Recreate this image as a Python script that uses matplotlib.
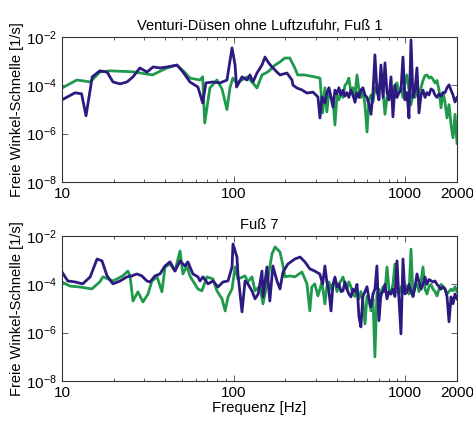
import numpy as np
import matplotlib
matplotlib.use("Agg")
import matplotlib.pyplot as plt
from matplotlib.ticker import FixedLocator, LogLocator, NullLocator, NullFormatter

plt.rcParams['font.family'] = ['Liberation Sans', 'DejaVu Sans']
plt.rcParams['mathtext.fontset'] = 'custom'
plt.rcParams['mathtext.rm'] = 'Liberation Sans'

# Daten: Frequenz [Hz], Werte als log10 der Winkel-Schnelle [1/s]
# --- oberes Bild (Fuß 1), tieffrequenter Teil
top_blue_f = [10, 11.9, 13.0, 13.8, 15.0, 16.6, 18.3, 19.8, 21.8, 23.9, 25.9, 28.4, 31.3,
              33.9, 37.2, 40.9, 46.7, 50.7, 55.6, 61.9, 66.0, 68.9, 75.8, 83.3, 91.4, 97.8,
              101.9, 104, 111.8, 119.5, 124.4, 129.6, 136.7, 146.2, 152.2, 158.4, 167.2,
              178.7, 186.1, 204.4, 218.6, 221.5, 233.7, 249.9, 267.3, 289.6, 309.7, 318.1,
              326.8]
top_blue_v = [-4.6, -4.31, -4.35, -5.26, -3.65, -3.40, -3.45, -3.86, -3.94, -3.86, -3.65,
              -3.28, -3.45, -3.24, -3.28, -3.24, -3.16, -3.45, -3.86, -4.07, -4.73, -3.90,
              -3.86, -3.90, -3.78, -2.45, -3.16, -4.07, -3.65, -3.78, -3.57, -3.86, -3.49,
              -3.16, -2.83, -3.03, -3.24, -3.45, -3.57, -3.49, -3.78, -3.99, -4.11, -4.19,
              -4.32, -4.28, -4.48, -5.35, -4.48]
top_green_f = [10, 12.2, 14.6, 16.6, 19.0, 25.9, 33.6, 40.9, 46.7, 51.7, 55.6, 63.6, 66.0,
               67.8, 72.7, 79.9, 85.5, 91.4, 95.1, 98.9, 104.0, 111.8, 119.5, 127.9, 136.7,
               146.2, 158.4, 174.2, 186.1, 198.6, 212.3, 227, 236, 259, 297, 318.1, 330]
top_green_v = [-4.11, -3.78, -3.86, -3.45, -3.40, -3.44, -3.57, -3.28, -3.16, -3.45, -3.70,
               -3.78, -3.65, -5.56, -4.11, -3.78, -4.15, -5.0, -4.11, -3.70, -3.90, -3.78,
               -3.65, -3.86, -4.11, -3.57, -3.44, -3.16, -3.03, -2.87, -2.87, -3.28, -3.57,
               -3.57, -3.65, -3.70, -5.14]

# --- unteres Bild (Fuß 7), tieffrequenter Teil
bot_blue_f = [10, 10.8, 11.9, 13.2, 14.6, 16.0, 17.1, 18.3, 19.8, 21.8, 23.9, 25.5, 27.3,
              29.2, 31.2, 32.6, 34.8, 37.2, 39.8, 42.6, 45.5, 48.7, 52.0, 54.1, 57.9, 61.9,
              63.6, 66.2, 70.9, 75.8, 81.0, 86.7, 92.7, 97.8, 99.1, 104.5, 105.9, 111.8,
              116.5, 120.9, 127.8, 133.2, 138.9, 146.2, 148.2, 156.3, 162.4, 169.2, 178.7,
              186.1, 193.9, 206.8, 227.3, 243.7, 259.9, 277.7, 296.7, 317.0, 330.0]
bot_blue_v = [-3.49, -3.86, -3.90, -3.98, -3.69, -2.95, -3.03, -3.65, -3.98, -3.86, -3.69,
              -3.65, -3.57, -3.65, -3.86, -3.90, -3.65, -3.57, -3.24, -3.07, -3.45, -3.03,
              -3.24, -3.07, -3.57, -3.69, -3.86, -3.69, -3.98, -3.86, -4.11, -3.90, -3.86,
              -3.28, -2.33, -2.87, -3.57, -5.14, -3.86, -3.98, -4.27, -4.60, -4.40, -3.45,
              -4.52, -3.28, -4.69, -3.24, -3.86, -4.19, -3.49, -3.16, -2.95, -2.87, -3.07,
              -3.36, -3.45, -3.57, -3.98]
bot_green_f = [10, 11.1, 12.7, 14.9, 16.6, 17.3, 19.8, 22.6, 24.2, 24.9, 25.9, 27.7, 29.6,
               31.7, 33.4, 35.8, 38.2, 39.8, 42.6, 45.5, 48.7, 50.6, 53.4, 55.6, 57.9, 61.9,
               65.3, 69.9, 75.8, 79.9, 85.5, 89.2, 92.7, 97.8, 101.9, 105.9, 116.5, 120.9,
               127.8, 133.2, 142.1, 148.2, 156.3, 167.2, 174.2, 186.1, 193.9, 199.1, 212.8,
               227.3, 249.9, 267.3, 277.7, 285.2, 296.7, 309.7, 326.8]
bot_green_v = [-3.90, -4.07, -4.11, -4.19, -3.90, -3.69, -3.86, -3.65, -3.45, -3.65, -4.69,
               -4.31, -4.73, -4.40, -3.86, -3.69, -4.31, -3.28, -3.16, -3.45, -2.62, -3.57,
               -3.24, -3.65, -3.86, -4.19, -4.27, -3.69, -3.78, -4.27, -4.60, -5.10, -4.52,
               -4.19, -3.28, -3.78, -3.65, -3.90, -3.69, -4.27, -4.07, -4.81, -3.98, -2.74,
               -2.45, -2.66, -3.24, -3.69, -3.65, -3.69, -3.49, -3.98, -5.10, -4.11, -3.98,
               -4.48, -3.90]

# --- hochfrequenter Teil, gemeinsame Frequenzstützstellen
hf_f = [340, 349, 359, 369, 379, 389, 400, 410, 422, 433, 445, 457, 469, 482, 495, 509,
        523, 537, 551, 566, 582, 598, 614, 631, 648, 665, 683, 702, 721, 741, 761, 782,
        803, 825, 847, 870, 894, 918, 943, 969, 995, 1022, 1050, 1079, 1108, 1138, 1169,
        1201, 1234, 1267, 1302, 1337, 1374, 1411, 1449, 1489, 1529, 1571, 1614, 1658,
        1703, 1749, 1797, 1846, 1896, 1947, 2000]
top_blue_hf = [-4.73, -4.3, -4.1, -4.5, -4.9, -4.2, -4.35, -4.1, -4.4, -4.2, -4.45, -4.3,
               -4.5, -4.2, -4.4, -4.7, -4.3, -4.5, -4.2, -4.1, -4.4, -4.5, -4.8, -5.2, -4.3,
               -2.74, -4.2, -4.6, -3.16, -4.5, -3.07, -4.3, -4.6, -3.65, -5.3, -4.0, -4.5,
               -4.3, -4.2, -2.83, -4.6, -4.3, -5.35, -2.12, -4.5, -4.2, -3.28, -5.14, -4.4,
               -4.2, -4.5, -4.3, -4.4, -4.15, -4.2, -4.4, -4.5, -4.35, -4.45, -4.3, -4.3,
               -4.1, -3.98, -4.2, -4.4, -4.69, -4.5]
top_green_hf = [-4.1, -5.1, -4.2, -4.5, -4.6, -5.64, -4.4, -4.6, -4.3, -4.5, -4.0, -3.9,
                -3.7, -4.3, -4.1, -4.4, -3.57, -4.2, -4.5, -4.2, -4.8, -5.93, -4.6, -4.4,
                -4.7, -4.1, -4.3, -4.0, -3.9, -4.2, -5.2, -4.5, -4.6, -4.2, -4.4, -4.0,
                -3.9, -4.3, -4.1, -4.5, -3.9, -3.57, -4.2, -4.8, -4.3, -4.5, -4.2, -4.4,
                -4.1, -3.8, -3.6, -3.57, -3.7, -3.65, -3.75, -3.9, -3.8, -4.2, -4.93, -4.3,
                -4.7, -5.35, -4.8, -5.64, -6.17, -5.2, -6.4]
bot_blue_hf = [-3.24, -3.9, -4.3, -5.1, -4.0, -3.7, -4.1, -3.98, -4.3, -4.27, -3.9, -4.2,
               -4.4, -4.52, -4.2, -4.3, -4.0, -5.35, -5.76, -4.5, -4.3, -4.1, -4.6, -4.93,
               -4.4, -4.2, -3.24, -5.5, -4.4, -4.3, -4.0, -4.6, -4.3, -4.4, -4.2, -4.5,
               -3.03, -4.6, -6.05, -2.95, -4.4, -4.3, -4.0, -4.3, -4.5, -4.1, -3.57, -3.9,
               -4.2, -4.0, -3.7, -4.0, -3.8, -3.85, -3.9, -3.86, -4.0, -4.1, -4.2, -4.1,
               -4.19, -4.5, -5.55, -4.52, -4.8, -4.4, -4.6]
bot_green_hf = [-4.81, -4.1, -3.9, -4.2, -4.0, -3.9, -4.3, -4.0, -3.85, -3.7, -4.0, -4.2,
                -3.9, -4.1, -4.4, -4.5, -4.2, -4.6, -4.3, -4.7, -5.64, -4.5, -4.7, -5.1,
                -4.6, -7.0, -4.4, -4.2, -4.5, -4.1, -4.3, -3.28, -4.2, -4.4, -4.0, -3.16,
                -4.3, -4.4, -4.1, -4.3, -4.0, -4.2, -4.4, -2.54, -4.5, -4.1, -4.0, -4.3,
                -3.9, -3.28, -4.2, -4.4, -4.1, -4.0, -4.2, -4.3, -4.48, -4.2, -4.0, -4.1,
                -4.2, -4.4, -4.3, -4.2, -4.27, -4.1, -4.3]

titles = ["Venturi-Düsen ohne Luftzufuhr, Fuß 1", "Fuß 7"]
ylabel = "Freie Winkel-Schnelle [1/s]"
xlabel = "Frequenz [Hz]"
xticks = [10, 100, 1000, 2000]
yticks = [1e-8, 1e-6, 1e-4, 1e-2]

green = '#1f9a4c'
blue = '#2c1a80'

fig = plt.figure(figsize=(4.73, 4.21), dpi=100)
ax1 = fig.add_axes([0.1311, 0.5677, 0.8351, 0.3444])
ax2 = fig.add_axes([0.1311, 0.0950, 0.8351, 0.3444])

panels = [
    (ax1, top_green_f, top_green_v, top_green_hf, top_blue_f, top_blue_v, top_blue_hf),
    (ax2, bot_green_f, bot_green_v, bot_green_hf, bot_blue_f, bot_blue_v, bot_blue_hf),
]

for i, (ax, gf, gv, ghf, bf, bv, bhf) in enumerate(panels):
    g_x = np.array(gf + hf_f)
    g_y = 10.0 ** np.array(gv + ghf)
    b_x = np.array(bf + hf_f)
    b_y = 10.0 ** np.array(bv + bhf)
    ax.plot(g_x, g_y, color=green, lw=2.0, solid_joinstyle='round')
    ax.plot(b_x, b_y, color=blue, lw=2.0, solid_joinstyle='round')
    ax.set_xscale('log')
    ax.set_yscale('log')
    ax.set_xlim(10, 2000)
    ax.set_ylim(1e-8, 1e-2)
    ax.xaxis.set_major_locator(FixedLocator(xticks))
    ax.xaxis.set_major_formatter(matplotlib.ticker.FixedFormatter([str(t) for t in xticks]))
    ax.xaxis.set_minor_locator(LogLocator(base=10, subs=np.arange(2, 10)))
    ax.xaxis.set_minor_formatter(NullFormatter())
    ax.yaxis.set_major_locator(FixedLocator(yticks))
    ax.yaxis.set_minor_locator(NullLocator())
    ax.tick_params(which='both', direction='in', top=True, right=True, labelsize=11,
                   color='#444444')
    ax.tick_params(which='major', length=4, width=0.6)
    ax.tick_params(which='minor', length=2, width=0.6)
    for s in ax.spines.values():
        s.set_linewidth(0.8)
        s.set_color('#333333')
    ax.set_title(titles[i], fontsize=10.5, pad=5)
    ax.set_ylabel(ylabel, fontsize=10.5, labelpad=2)

ax2.set_xlabel(xlabel, fontsize=10.8, labelpad=1)

fig.savefig("out.png", dpi=100)
